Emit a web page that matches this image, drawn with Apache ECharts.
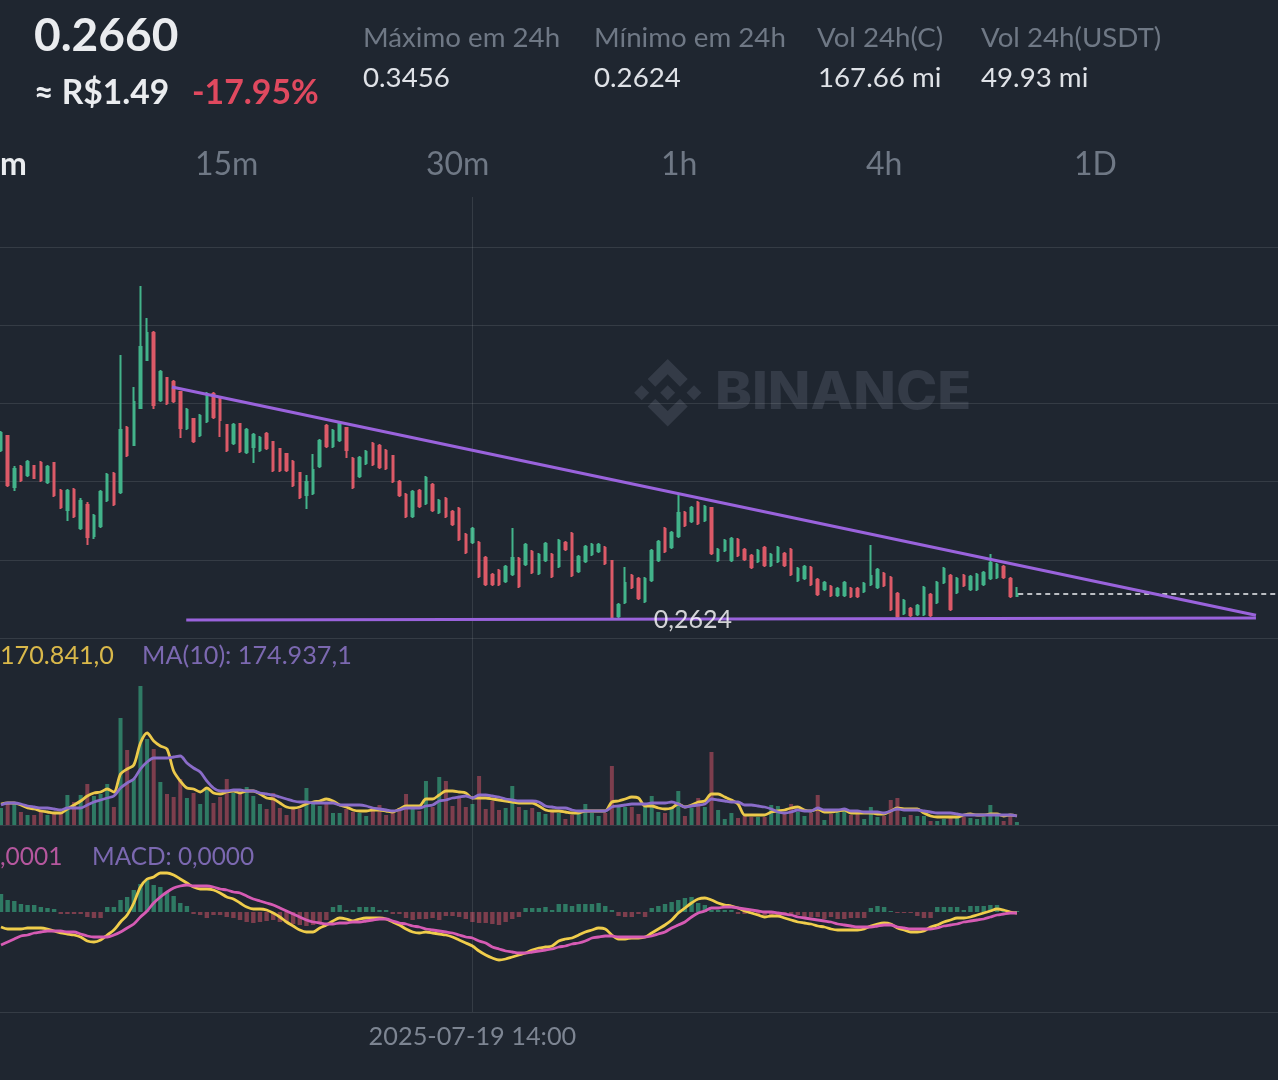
<!DOCTYPE html>
<html>
<head>
<meta charset="utf-8">
<style>html,body{margin:0;padding:0;background:#1f2630}#c{width:1278px;height:1080px}</style>
<script src="https://cdn.jsdelivr.net/npm/echarts@6/dist/echarts.min.js"></script>
</head>
<body>
<div id="c"></div>
<script>
// Prices below are in units of 0.00001 USDT. Volumes in thousands. MACD values in 0.00001.
const opens = [28616,28812,28098,28378,28266,28392,28434,28168,28434,28042,
27776,28056,27524,27846,27412,27552,27916,28280,28028,28924,
28686,29204,29876,30254,29316,29624,29568,29428,28924,29050,
28826,29022,29400,29330,28966,28714,28980,28588,28658,28616,
28840,28728,28630,28560,28448,28294,27986,28014,28392,28952,
28672,28756,28924,28490,28252,28434,28700,28672,28602,28532,
28168,27986,27692,28042,27874,28126,27748,27930,27748,27790,
27426,27328,27314,27104,26866,26922,26782,26880,27090,27020,
27188,26894,27076,27146,26992,27314,27440,26922,27062,27160,
27202,27244,27062,26292,26488,26852,26810,26502,26796,27076,
27510,27258,27412,27734,27622,27874,27636,27804,27076,27216,
27076,27356,27216,27132,27062,27244,27006,27062,27160,27216,
26796,26824,26964,26796,26670,26698,26586,26586,26670,26670,
26642,26740,26698,26880,26824,26600,26334,26390,26320,26320,
26586,26488,26768,26852,26628,26852,26670,26670,26740,26824,
26838,26978,26810,26572];
const closes = [28854,28126,28350,28196,28448,28224,28196,28378,27986,27818,
28042,27692,27902,27398,27692,28028,28266,27860,28896,28546,
29288,30058,30254,29246,29708,29274,29302,28924,29176,28742,
29092,29400,29078,29036,28616,28966,28602,28896,28826,28784,
28644,28336,28336,28336,28126,27958,28168,28336,28742,28672,
28882,28980,28616,28098,28504,28588,28420,28378,28364,28182,
27986,27692,28028,27832,28224,27776,27902,27692,27580,27370,
27188,27510,26852,26740,26740,26740,26978,27104,26712,27286,
26908,27146,27300,26852,27342,27230,26866,27118,27258,27286,
27286,27034,26278,26446,26754,26698,26544,26810,27202,27328,
27202,27454,27734,27566,27804,27594,27818,27174,27216,27342,
27370,27146,27090,26978,27202,27006,27146,27244,27006,26880,
26950,26978,26740,26600,26754,26586,26670,26754,26572,26572,
26740,26852,26936,26726,26390,26292,26502,26306,26432,26684,
26306,26754,26950,26390,26810,26726,26838,26866,26894,27034,
27006,26838,26572,26600];
const lows = [28588,28098,28042,28168,28238,28210,28168,28140,27958,27790,
27622,27664,27496,27286,27370,27524,27888,27832,28000,28518,
28672,29190,29862,29190,29288,29246,29274,28784,28896,28714,
28798,28994,29050,28798,28588,28686,28574,28560,28434,28588,
28616,28308,28308,28308,28098,27930,27790,27986,28364,28644,
28644,28728,28504,28070,28224,28406,28392,28350,28336,28154,
27958,27664,27664,27804,27846,27748,27720,27664,27552,27342,
27160,27300,26824,26712,26712,26712,26754,26852,26684,26992,
26880,26866,27048,26824,26964,27202,26838,26894,27034,27132,
27174,27006,26236,26264,26460,26670,26516,26474,26768,27048,
27174,27230,27384,27538,27594,27566,27608,27146,27048,27188,
27048,27118,27062,26950,27034,26978,26978,27034,26978,26852,
26768,26796,26712,26572,26642,26558,26558,26558,26544,26544,
26614,26712,26670,26698,26362,26236,26306,26278,26292,26292,
26278,26460,26740,26362,26600,26698,26642,26642,26712,26796,
26810,26810,26544,26558];
const highs = [28882,28826,28392,28406,28476,28406,28462,28406,28448,28070,
28070,28084,27944,27888,27720,28056,28294,28308,29946,28952,
29498,30912,30464,30282,29736,29638,29596,29442,29204,29064,
29120,29428,29428,29358,28980,28994,28994,28924,28854,28812,
28868,28742,28644,28574,28476,28308,28266,28560,28770,28980,
28910,29008,28938,28518,28532,28616,28728,28700,28630,28546,
28196,28014,28056,28070,28252,28154,27930,27958,27776,27818,
27454,27538,27342,27132,26894,26950,27006,27524,27118,27314,
27216,27174,27328,27174,27370,27342,27468,27146,27286,27314,
27314,27272,27076,26474,26978,26880,26838,26838,27230,27356,
27538,27482,28000,27762,27832,27902,27846,27818,27244,27370,
27398,27384,27244,27160,27230,27272,27174,27272,27188,27244,
26978,27006,26992,26824,26782,26726,26698,26782,26698,26698,
26768,27286,26964,26908,26852,26628,26530,26418,26460,26712,
26614,26782,26978,26880,26838,26880,26866,26894,26922,27160,
27034,27006,26838,26698];
const volumes = [340,440,440,260,200,200,280,200,240,240,
600,460,600,820,580,620,820,360,2140,1500,
920,2780,1720,1520,860,620,560,920,540,640,
420,740,440,560,920,640,640,760,580,420,
320,640,340,200,320,320,740,440,380,420,
240,240,320,260,240,180,280,400,200,240,
340,620,320,280,880,360,960,880,380,560,
360,420,980,320,480,300,340,780,360,300,
340,260,220,260,240,120,200,220,420,240,
180,240,1180,360,360,360,220,360,580,260,
240,360,680,180,340,540,360,1460,300,120,
240,140,180,160,160,160,400,380,220,420,
260,180,240,600,100,220,260,320,200,220,
120,360,160,180,500,540,160,200,180,180,
80,80,120,140,140,160,140,120,160,400,
180,80,180,60];
const ma5 = [420,440,440,400,340,320,280,260,240,240,
320,400,480,580,640,660,720,660,1020,1120,
1200,1640,1840,1680,1580,1520,1080,880,740,720,
660,740,640,620,660,680,640,680,680,620,
540,520,440,360,340,360,420,460,480,520,
480,400,360,300,280,280,300,300,280,260,
320,380,380,380,520,520,600,680,680,660,
640,540,540,540,520,500,480,460,440,440,
440,380,300,280,280,260,240,240,280,280,
280,280,460,480,520,560,540,380,380,340,
320,340,420,360,400,460,480,620,620,560,
500,420,200,200,200,200,260,280,300,340,
360,300,280,320,260,260,280,300,240,240,
240,240,220,220,280,340,320,320,320,240,
180,160,160,160,160,200,220,200,200,220,
220,180,200,180];
const ma10 = [400,440,440,420,380,360,340,340,320,300,
340,340,340,400,460,500,540,580,740,840,
920,1120,1260,1340,1340,1340,1360,1380,1240,1140,
1060,880,740,680,680,700,700,680,680,640,
620,600,560,520,480,460,460,440,440,440,
440,400,400,400,400,380,340,320,300,280,
300,340,340,340,380,400,480,500,540,560,
580,540,600,600,580,560,520,500,480,480,
480,460,380,360,340,340,300,280,280,280,
280,280,360,380,400,420,420,420,440,440,
440,460,420,360,380,400,420,520,500,480,
460,460,400,400,380,360,320,260,240,260,
300,280,280,340,300,300,300,320,280,280,
260,260,260,240,280,320,300,300,300,280,
260,240,240,240,220,200,200,200,200,200,
200,200,200,180];
const macdHist = [18,12,11,8,7,7,5,4,3,-2,
-2,-2,-2,-5,-6,-6,5,5,12,15,
22,28,32,27,25,20,16,9,6,-2,
-3,-6,-3,-3,-5,-6,-8,-10,-11,-10,
-9,-8,-10,-11,-12,-13,-14,-13,-11,-8,
5,7,2,2,5,5,5,2,2,-2,
-2,-6,-8,-7,-7,-6,-8,-4,-4,-5,
-7,-10,-11,-11,-12,-13,-10,-7,-5,4,
4,4,5,2,8,8,6,8,8,8,
9,6,2,-4,-5,-5,-2,-5,4,6,
8,10,12,14,15,9,7,2,2,2,
2,-2,-2,-2,-3,-3,-3,-3,-3,-3,
-3,-6,-5,-5,-7,-5,-7,-7,-6,-6,
-6,4,6,5,1,-1,-1,-1,-4,-6,
-6,5,5,5,5,2,6,6,6,7,
7,2,-1,1];
const dif = [-15,-17,-17,-17,-16,-16,-16,-17,-19,-21,
-22,-23,-25,-29,-30,-28,-23,-18,-10,-3,
9,25,33,35,39,39,37,33,29,25,
23,23,22,19,15,13,9,5,3,3,
2,-1,-5,-10,-14,-18,-20,-20,-16,-13,
-9,-6,-7,-9,-7,-6,-6,-6,-7,-10,
-13,-17,-20,-21,-20,-21,-22,-23,-25,-28,
-31,-34,-39,-43,-46,-48,-47,-45,-43,-41,
-38,-36,-35,-34,-29,-27,-26,-23,-20,-18,
-16,-17,-23,-27,-27,-26,-26,-25,-21,-17,
-13,-8,-1,4,9,13,14,12,9,7,
6,4,1,-1,-3,-5,-4,-4,-6,-8,
-10,-11,-12,-14,-15,-17,-18,-18,-18,-18,
-17,-14,-12,-11,-12,-16,-18,-20,-20,-19,
-15,-13,-10,-8,-6,-6,-5,-3,-1,1,
3,2,0,-1];
const dea = [-33,-30,-27,-24,-23,-21,-20,-19,-19,-19,
-20,-20,-22,-24,-25,-25,-25,-23,-20,-16,
-12,-5,1,9,15,20,24,26,27,26,
26,26,25,23,22,20,19,16,13,11,
9,7,4,1,-2,-5,-8,-10,-11,-12,
-12,-11,-11,-10,-10,-9,-8,-7,-7,-9,
-11,-12,-14,-15,-17,-18,-19,-20,-21,-23,
-25,-26,-29,-31,-35,-37,-39,-40,-41,-41,
-40,-39,-38,-37,-35,-34,-32,-31,-29,-26,
-25,-24,-24,-25,-25,-25,-25,-25,-24,-22,
-20,-16,-13,-10,-5,-1,1,4,4,5,
5,4,3,2,1,0,0,-1,-2,-3,
-5,-6,-7,-8,-9,-10,-12,-13,-14,-15,
-15,-15,-14,-13,-13,-15,-16,-17,-17,-17,
-17,-16,-14,-13,-12,-10,-9,-8,-7,-5,
-3,-2,-1,-1];
// trend annotations: [candle position, price]
const resistanceLine = [[25.75,29498],[189,26302]];
const supportLine = [[27.9,26236],[189,26264]];
const lastPriceLine = [[153.2,26600],[192.5,26600]];
const lowMark = [[104.2,26236]];
const lowLabel = '0,2624';
const timeLabelIndex = 71;
const timeLabel = '2025-07-19 14:00';
const slotCount = 193;
const categories = Array.from({length:slotCount},(_,i)=> i===timeLabelIndex ? timeLabel : String(i));

const UP='#43b38a', DOWN='#dc5a68', VUP='#2f7a64', VDOWN='#7d3e4d';
const GRID='rgba(255,255,255,0.10)';
const FONT='Lato';

const chart = echarts.init(document.getElementById('c'),null,{renderer:'canvas'});
const candleData = opens.map((o,i)=>[o,closes[i],lows[i],highs[i]]);
const dirs = opens.map((o,i)=>closes[i]>=o);
const vline = {silent:true,symbol:'none',label:{show:false},animation:false,
  lineStyle:{color:GRID,type:'solid',width:1},data:[{xAxis:timeLabel}]};

function txt(text,x,y,size,fill,weight,align){
  return {type:'text',x:x,y:y,z:0,silent:true,style:{text:text,fill:fill,
    font:(weight||'normal')+' '+size+'px '+FONT,textAlign:align||'left',textVerticalAlign:'middle'}};
}
const WM='#343b47';
function poly(pts){return {type:'polygon',z:0,silent:true,shape:{points:pts},style:{fill:WM}};}
function dia(cx,cy,r){return poly([[cx,cy-r],[cx+r,cy],[cx,cy+r],[cx-r,cy]]);}

const graphics = [
  txt('0.2660',34,36,46,'#eaecef','bold'),
  txt('≈ R$1.49',34,93,33.6,'#eaecef','bold'),
  txt('-17.95%',192,93,33.8,'#e0495f','bold'),
  txt('Máximo em 24h',363,38.5,27.7,'#6f7885'),
  txt('0.3456',363,78.5,27.7,'#dfe2e7'),
  txt('Mínimo em 24h',594,38.5,27.7,'#6f7885'),
  txt('0.2624',594,78.5,27.7,'#dfe2e7'),
  txt('Vol 24h(C)',817,38.5,27.7,'#6f7885'),
  txt('167.66 mi',818,78.5,27.7,'#dfe2e7'),
  txt('Vol 24h(USDT)',981,38.5,27.7,'#6f7885'),
  txt('49.93 mi',981,78.5,27.7,'#dfe2e7'),
  txt('m',0,165,32,'#eaecef','bold'),
  txt('15m',195,165,32,'#6f7885'),
  txt('30m',426,165,32,'#6f7885'),
  txt('1h',661,165,32,'#6f7885'),
  txt('4h',866,165,32,'#6f7885'),
  txt('1D',1074,165,32,'#6f7885'),
  txt('170.841,0',0,656,25.2,'#d9b84a'),
  txt('MA(10): 174.937,1',142,656,25.2,'#7b68b0'),
  txt(',0001',0,857,24.5,'#b5579e'),
  txt('MACD: 0,0000',92,857,24.4,'#7b68b0'),
  {type:'text',x:715,y:393,z:0,scaleX:1.07,silent:true,style:{text:'BINANCE',fill:WM,font:'800 52px Inter',textAlign:'left',textVerticalAlign:'middle'}},
  dia(641.7,392.7,7.5),dia(667.7,392.7,7.5),dia(694,392.7,7.5),
  poly([[667.7,359],[687.7,379],[680,386.7],[667.7,374.3],[655.3,386.7],[647.7,379]]),
  poly([[667.7,426.4],[687.7,406.4],[680,398.7],[667.7,411],[655.3,398.7],[647.7,406.4]])
];

const gridL=-2.32, gridW=1281.52;
const hiddenCat = i=>({type:'category',gridIndex:i,data:categories,boundaryGap:true,
  axisLine:{show:true,onZero:false,lineStyle:{color:GRID,width:1}},axisTick:{show:false},axisLabel:{show:false},splitLine:{show:false}});

chart.setOption({
  animation:false,
  backgroundColor:'#1f2630',
  graphic:{elements:graphics},
  grid:[
    {left:gridL,width:gridW,top:197,height:441,outerBoundsMode:'none'},
    {left:gridL,width:gridW,top:638,height:187,outerBoundsMode:'none'},
    {left:gridL,width:gridW,top:825,height:187,outerBoundsMode:'none'}
  ],
  xAxis:[
    Object.assign(hiddenCat(0),{axisLine:{show:false}}),
    hiddenCat(1),
    Object.assign(hiddenCat(2),{axisLabel:{show:true,color:'#7d8592',fontSize:25.3,fontFamily:FONT,margin:12,
      interval:(i)=>i===timeLabelIndex, formatter:(v)=>v}}),
    {type:'value',gridIndex:0,min:-0.5,max:192.5,show:false}
  ],
  yAxis:[
    {type:'value',gridIndex:0,min:25984,max:32158,scale:true,show:false},
    {type:'value',gridIndex:0,min:0,max:5.64,interval:1,axisLine:{show:false},axisTick:{show:false},axisLabel:{show:false},
      splitLine:{show:true,showMaxLine:false,lineStyle:{color:GRID,width:1}}},
    {type:'value',gridIndex:1,min:0,max:3740,show:false},
    {type:'value',gridIndex:2,min:-100,max:87,show:false}
  ],
  series:[
    {type:'candlestick',name:'K',xAxisIndex:0,yAxisIndex:0,data:candleData,barWidth:2,
      itemStyle:{color:UP,color0:DOWN,borderColor:UP,borderColor0:DOWN,borderWidth:2},markLine:vline},
    {type:'line',name:'Resistance',xAxisIndex:3,yAxisIndex:0,data:resistanceLine,symbol:'none',z:6,
      lineStyle:{color:'#9a63dc',width:3.2}},
    {type:'line',name:'Support',xAxisIndex:3,yAxisIndex:0,data:supportLine,symbol:'none',z:6,
      lineStyle:{color:'#9a63dc',width:3.2}},
    {type:'line',name:'Last',xAxisIndex:3,yAxisIndex:0,data:lastPriceLine,symbol:'none',z:5,
      lineStyle:{color:'#f0f1f3',width:1.5,type:[5,4]}},
    {type:'scatter',name:'Low',xAxisIndex:3,yAxisIndex:0,data:lowMark,symbolSize:1,z:7,itemStyle:{color:'transparent'},
      label:{show:true,position:'inside',formatter:lowLabel,color:'#ffffff',fontSize:25,fontFamily:FONT}},
    {type:'bar',name:'Volume',xAxisIndex:1,yAxisIndex:2,barWidth:4,
      data:volumes.map((v,i)=>({value:v,itemStyle:{color:dirs[i]?VUP:VDOWN}})),markLine:vline},
    {type:'line',name:'MA5',xAxisIndex:1,yAxisIndex:2,data:ma5,symbol:'none',smooth:0.3,z:4,lineStyle:{color:'#ecc94b',width:2.8}},
    {type:'line',name:'MA10',xAxisIndex:1,yAxisIndex:2,data:ma10,symbol:'none',smooth:0.3,z:4,lineStyle:{color:'#8a6cc9',width:2.8}},
    {type:'bar',name:'Hist',xAxisIndex:2,yAxisIndex:3,barWidth:4.4,
      data:macdHist.map(v=>({value:v,itemStyle:{color:v>=0?VUP:VDOWN}})),markLine:vline},
    {type:'line',name:'DIF',xAxisIndex:2,yAxisIndex:3,data:dif,symbol:'none',smooth:0.3,z:4,lineStyle:{color:'#f0cd4b',width:2.8}},
    {type:'line',name:'DEA',xAxisIndex:2,yAxisIndex:3,data:dea,symbol:'none',smooth:0.3,z:5,lineStyle:{color:'#d65bb4',width:2.8}}
  ]
});
</script>
</body>
</html>
